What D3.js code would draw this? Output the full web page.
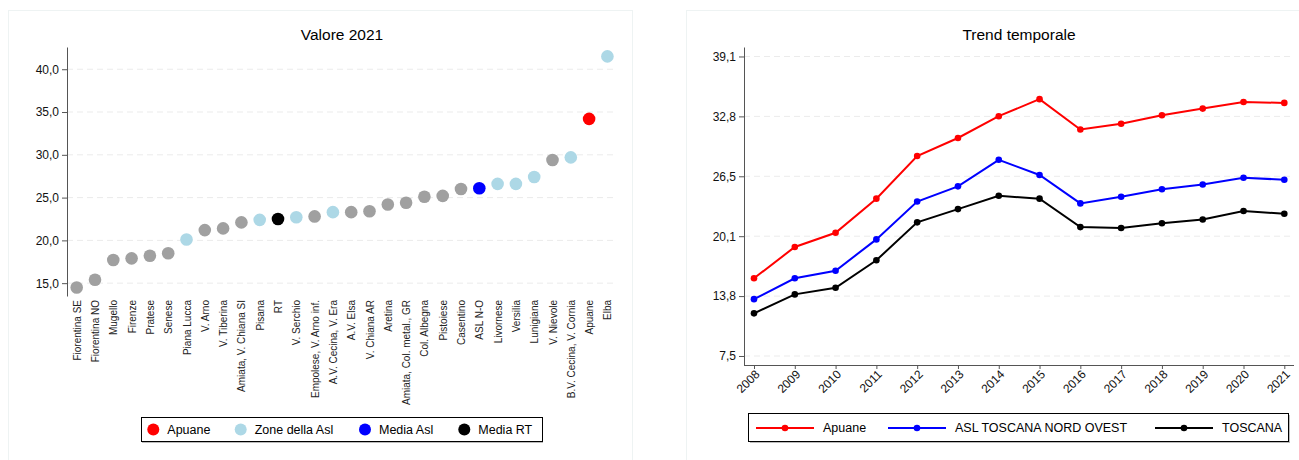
<!DOCTYPE html>
<html>
<head>
<meta charset="utf-8">
<script src="https://cdn.jsdelivr.net/npm/d3@7"></script>
<style>
  body { margin: 0; background: #fff; }
  svg { display: block; font-family: "Liberation Sans", Arial, sans-serif; }
</style>
</head>
<body>
<script>
// Valore 2021 - zone
const zone = ['Fiorentina SE', 'Fiorentina NO', 'Mugello', 'Firenze', 'Pratese', 'Senese', 'Piana Lucca',
  'V. Arno', 'V. Tiberina', 'Amiata, V. Chiana SI', 'Pisana', 'RT', 'V. Serchio', 'Empolese, V. Arno inf.',
  'A.V. Cecina, V. Era', 'A.V. Elsa', 'V. Chiana AR', 'Aretina', 'Amiata, Col. metal., GR', 'Col. Albegna',
  'Pistoiese', 'Casentino', 'ASL N-O', 'Livornese', 'Versilia', 'Lunigiana', 'V. Nievole',
  'B.V. Cecina, V. Cornia', 'Apuane', 'Elba'];
const valori2021 = [14.5, 15.4, 17.7, 17.9, 18.2, 18.5, 20.1, 21.2, 21.4, 22.1, 22.4, 22.5, 22.7, 22.8,
  23.3, 23.3, 23.4, 24.2, 24.4, 25.1, 25.2, 26.0, 26.1, 26.6, 26.6, 27.4, 29.4, 29.7, 34.2, 41.5];
const tipo = ['altra', 'altra', 'altra', 'altra', 'altra', 'altra', 'zona', 'altra', 'altra', 'altra',
  'zona', 'rt', 'zona', 'altra', 'zona', 'altra', 'altra', 'altra', 'altra', 'altra', 'altra', 'altra',
  'asl', 'zona', 'zona', 'zona', 'altra', 'zona', 'apuane', 'zona'];
const yTicksSx = [15, 20, 25, 30, 35, 40];
const legendaSx = [
  { key: 'apuane', label: 'Apuane' },
  { key: 'zona', label: 'Zone della Asl' },
  { key: 'asl', label: 'Media Asl' },
  { key: 'rt', label: 'Media RT' }
];

// Trend temporale
const anni = [2008, 2009, 2010, 2011, 2012, 2013, 2014, 2015, 2016, 2017, 2018, 2019, 2020, 2021];
const apuane = [15.7, 19.0, 20.5, 24.1, 28.6, 30.5, 32.8, 34.6, 31.4, 32.0, 32.9, 33.6, 34.3, 34.2];
const aslNO = [13.5, 15.7, 16.5, 19.8, 23.8, 25.4, 28.2, 26.6, 23.6, 24.3, 25.1, 25.6, 26.3, 26.1];
const toscana = [12.0, 14.0, 14.7, 17.6, 21.6, 23.0, 24.4, 24.1, 21.1, 21.0, 21.5, 21.9, 22.8, 22.5];
const yTicksDx = [7.5, 13.82, 20.14, 26.46, 32.78, 39.1];
const serieNomi = ['Apuane', 'ASL TOSCANA NORD OVEST', 'TOSCANA'];

const colori = { altra: '#a0a0a0', zona: '#add8e6', asl: '#0000ff', rt: '#000000', apuane: '#ff0000' };
const coloriSerie = ['#ff0000', '#0000ff', '#000000'];
const fmt = d => d3.format('.1f')(d).replace('.', ',');

const svg = d3.select('body').append('svg')
  .attr('width', 1299)
  .attr('height', 460);

// panel borders
svg.append('rect').attr('x', 8.5).attr('y', 10.5).attr('width', 624).attr('height', 460)
  .attr('fill', 'none').attr('stroke', '#eef3f3');
svg.append('rect').attr('x', 686.5).attr('y', 10.5).attr('width', 640).attr('height', 460)
  .attr('fill', 'none').attr('stroke', '#eef3f3');

// ---------- left chart ----------
const xL = d3.scalePoint().domain(zone).range([76.7, 607.4]);
const yL = d3.scaleLinear().domain([13.5, 42.6]).range([296, 47]);

svg.append('text')
  .attr('x', 342).attr('y', 40)
  .attr('text-anchor', 'middle')
  .attr('font-size', 15.5)
  .text('Valore 2021');

// grid
svg.append('g').selectAll('line')
  .data(yTicksSx)
  .enter().append('line')
  .attr('x1', 67).attr('x2', 617)
  .attr('y1', d => yL(d)).attr('y2', d => yL(d))
  .attr('stroke', '#ebebeb')
  .attr('stroke-dasharray', '6,4');

const axL = svg.append('g')
  .attr('transform', 'translate(67,0)')
  .call(d3.axisLeft(yL).tickValues(yTicksSx).tickFormat(fmt).tickSize(5).tickSizeOuter(0));
axL.select('.domain').attr('stroke', '#555');
axL.selectAll('.tick line').attr('stroke', '#555');
axL.selectAll('.tick text').attr('font-size', 12).attr('fill', '#111')
  .attr('font-family', '"Liberation Sans", Arial, sans-serif');

const axXL = svg.append('g')
  .attr('transform', 'translate(0,300)')
  .call(d3.axisBottom(xL).tickSize(0));
axXL.select('.domain').remove();
axXL.selectAll('.tick text')
  .attr('font-size', 10)
  .attr('fill', '#222')
  .attr('font-family', '"Liberation Sans", Arial, sans-serif')
  .attr('text-anchor', 'end')
  .attr('transform', 'rotate(-90)')
  .attr('x', 0).attr('y', 0).attr('dy', '0.35em');

svg.append('g').selectAll('circle')
  .data(zone)
  .enter().append('circle')
  .attr('cx', d => xL(d))
  .attr('cy', (d, i) => yL(valori2021[i]))
  .attr('r', 6.3)
  .attr('fill', (d, i) => colori[tipo[i]]);

// left legend
const legL = svg.append('g');
legL.append('rect').attr('x', 142).attr('y', 419).attr('width', 401).attr('height', 24).attr('fill', '#bbb');
legL.append('rect').attr('x', 141.5).attr('y', 417.5).attr('width', 401).attr('height', 24)
  .attr('fill', '#fff').attr('stroke', '#000');
const legXs = [153.3, 240.7, 365, 464.3];
const itemsL = legL.selectAll('.item')
  .data(legendaSx)
  .enter().append('g')
  .attr('transform', (d, i) => `translate(${legXs[i]},429.5)`);
itemsL.append('circle').attr('r', 6).attr('fill', d => colori[d.key]);
itemsL.append('text').attr('x', 14).attr('dy', '0.35em').attr('font-size', 12.5).text(d => d.label);

// ---------- right chart ----------
const xR = d3.scaleLinear().domain([2008, 2021]).range([754, 1284.3]);
const yR = d3.scaleLinear().domain([6.55, 40.1]).range([365, 47]);

svg.append('text')
  .attr('x', 1019).attr('y', 40)
  .attr('text-anchor', 'middle')
  .attr('font-size', 15.5)
  .text('Trend temporale');

svg.append('g').selectAll('line')
  .data(yTicksDx)
  .enter().append('line')
  .attr('x1', 744).attr('x2', 1294)
  .attr('y1', d => yR(d)).attr('y2', d => yR(d))
  .attr('stroke', '#ebebeb')
  .attr('stroke-dasharray', '6,4');

const axR = svg.append('g')
  .attr('transform', 'translate(744,0)')
  .call(d3.axisLeft(yR).tickValues(yTicksDx).tickFormat(fmt).tickSize(5).tickSizeOuter(0));
axR.select('.domain').attr('stroke', '#555');
axR.selectAll('.tick line').attr('stroke', '#555');
axR.selectAll('.tick text').attr('font-size', 12).attr('fill', '#111')
  .attr('font-family', '"Liberation Sans", Arial, sans-serif');

const axXR = svg.append('g')
  .attr('transform', 'translate(0,365)')
  .call(d3.axisBottom(xR).tickValues(anni).tickFormat(d3.format('d')).tickSize(4).tickSizeOuter(0));
axXR.select('.domain').attr('d', 'M744,0.5H1294').attr('stroke', '#555');
axXR.selectAll('.tick line').attr('stroke', '#555');
axXR.selectAll('.tick text')
  .attr('font-size', 12)
  .attr('fill', '#111')
  .attr('font-family', '"Liberation Sans", Arial, sans-serif')
  .attr('text-anchor', 'end')
  .attr('transform', 'translate(3,7) rotate(-45)')
  .attr('x', 0).attr('y', 0).attr('dy', '0.35em');

const serie = [apuane, aslNO, toscana];
const line = d3.line().x((d, i) => xR(anni[i])).y(d => yR(d));
serie.forEach((vals, s) => {
  svg.append('path')
    .datum(vals)
    .attr('d', line)
    .attr('fill', 'none')
    .attr('stroke', coloriSerie[s])
    .attr('stroke-width', 2);
  svg.append('g').selectAll('circle')
    .data(vals)
    .enter().append('circle')
    .attr('cx', (d, i) => xR(anni[i]))
    .attr('cy', d => yR(d))
    .attr('r', 3.3)
    .attr('fill', coloriSerie[s]);
});

// right legend
const legR = svg.append('g');
legR.append('rect').attr('x', 750).attr('y', 415).attr('width', 540).attr('height', 28).attr('fill', '#bbb');
legR.append('rect').attr('x', 748.5).attr('y', 413.5).attr('width', 540).attr('height', 28)
  .attr('fill', '#fff').attr('stroke', '#000');
const legRX = [756, 888, 1155];
const itemsR = legR.selectAll('.item')
  .data(serieNomi)
  .enter().append('g')
  .attr('transform', (d, i) => `translate(${legRX[i]},428)`);
itemsR.append('line').attr('x1', 0).attr('x2', 58).attr('stroke', (d, i) => coloriSerie[i]).attr('stroke-width', 2);
itemsR.append('circle').attr('cx', 29).attr('r', 3.3).attr('fill', (d, i) => coloriSerie[i]);
itemsR.append('text').attr('x', 67).attr('dy', '0.35em').attr('font-size', 12.5).text(d => d);
</script>
</body>
</html>
